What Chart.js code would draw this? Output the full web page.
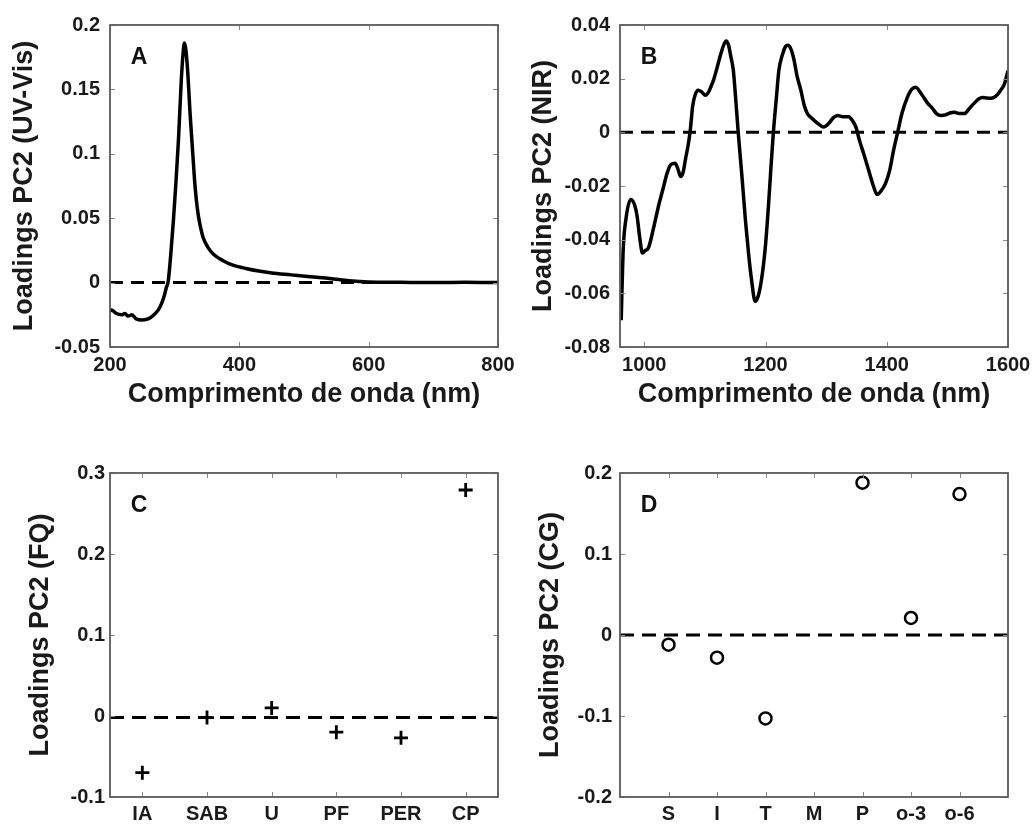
<!DOCTYPE html>
<html><head><meta charset="utf-8">
<script src="https://cdn.jsdelivr.net/npm/chart.js@4.4.1/dist/chart.umd.min.js"></script>
<style>
html,body{margin:0;padding:0;background:#fff}
body{width:1033px;height:825px;overflow:hidden;position:relative}
canvas{position:absolute;display:block}
</style></head><body>
<canvas id="cA" width="516" height="412" style="left:0;top:0"></canvas>
<canvas id="cB" width="517" height="412" style="left:516px;top:0"></canvas>
<canvas id="cC" width="516" height="413" style="left:0;top:412px"></canvas>
<canvas id="cD" width="517" height="413" style="left:516px;top:412px"></canvas>
<script>
// ---------- DATA ----------
const uvWavelength = [200,205,210,218,223,228,234,240,250,260,268,275,280,284,287,290,294,298,302,306,310,313,315,317,320,324,328,332,336,340,344,352,360,375,390,410,430,450,480,510,540,570,600,650,700,750,800];
const uvLoading = [-0.021,-0.022,-0.024,-0.025,-0.024,-0.026,-0.025,-0.028,-0.029,-0.028,-0.025,-0.021,-0.016,-0.010,-0.004,0.001,0.022,0.048,0.078,0.112,0.155,0.178,0.186,0.182,0.165,0.130,0.100,0.072,0.054,0.043,0.035,0.027,0.022,0.017,0.0135,0.011,0.009,0.0075,0.006,0.0045,0.0032,0.0015,0.0005,0.0002,0.0,0.0003,0.0];
const uvTicksX = [200,400,600,800];
const uvTicksY = [-0.05,0,0.05,0.1,0.15,0.2];

const nirWavelength = [962,965,970,978,984,988,993,997,1002,1007,1015,1023,1031,1038,1044,1051,1056,1060,1064,1068,1073,1076,1080,1084,1089,1095,1101,1106,1110,1115,1120,1126,1131,1135,1139,1143,1147,1151,1155,1161,1167,1172,1177,1183,1188,1194,1200,1205,1209,1213,1218,1222,1228,1233,1237,1242,1247,1252,1258,1264,1269,1275,1280,1288,1296,1305,1312,1319,1328,1337,1343,1349,1355,1362,1370,1378,1384,1390,1398,1405,1411,1418,1425,1434,1441,1448,1455,1461,1467,1475,1482,1489,1497,1504,1511,1520,1528,1536,1544,1552,1558,1565,1572,1580,1588,1594,1600];
const nirLoading = [-0.070,-0.045,-0.032,-0.025,-0.027,-0.031,-0.040,-0.045,-0.044,-0.043,-0.036,-0.028,-0.021,-0.015,-0.012,-0.0115,-0.014,-0.0165,-0.015,-0.010,-0.004,0.001,0.010,0.014,0.0157,0.0150,0.0138,0.0150,0.0170,0.020,0.024,0.029,0.0325,0.034,0.0325,0.028,0.023,0.012,0.0,-0.016,-0.033,-0.045,-0.055,-0.063,-0.061,-0.054,-0.042,-0.027,-0.013,0.0,0.013,0.023,0.029,0.032,0.0325,0.031,0.027,0.021,0.016,0.010,0.007,0.0055,0.0045,0.0030,0.002,0.0035,0.0055,0.0063,0.0058,0.0058,0.0045,0.002,-0.003,-0.008,-0.014,-0.020,-0.0232,-0.022,-0.019,-0.014,-0.007,0.0,0.007,0.013,0.016,0.0168,0.015,0.013,0.011,0.009,0.007,0.0063,0.0065,0.0072,0.0075,0.0070,0.0070,0.0088,0.0108,0.0125,0.0130,0.0128,0.0127,0.0135,0.0157,0.018,0.023];
const nirTicksX = [1000,1200,1400,1600];
const nirTicksY = [-0.08,-0.06,-0.04,-0.02,0,0.02,0.04];

const fqCategories = ['IA','SAB','U','PF','PER','CP'];
const fqLoading = [-0.070,-0.002,0.010,-0.020,-0.027,0.279];
const fqTicksY = [-0.1,0,0.1,0.2,0.3];
const fqZero = -0.002;

const cgCategories = ['S','I','T','M','P','o-3','o-6'];
const cgLoading = [-0.012,-0.028,-0.103,null,0.188,0.021,0.174];
const cgTicksY = [-0.2,-0.1,0,0.1,0.2];
const cgZero = 0;

// ---------- STYLE ----------
const FAM = '"Liberation Sans", Arial, Helvetica, sans-serif';
const tickFont = {family: FAM, size: 20, weight: 'bold'};
const titleFont = {family: FAM, size: 27, weight: 'bold'};
const TXT = '#1a1a1a';

const framePlugin = {
  id: 'frame',
  afterDatasetsDraw(chart, args, opts) {
    const {ctx, chartArea: a, scales: {x, y}} = chart;
    ctx.save();
    ctx.strokeStyle = '#8a8a8a'; ctx.lineWidth = 1;
    const L = 5;
    ctx.beginPath();
    x.ticks.forEach(t => {
      const p = Math.round(x.getPixelForValue(t.value)) + 0.5;
      ctx.moveTo(p, a.bottom); ctx.lineTo(p, a.bottom - L);
      ctx.moveTo(p, a.top); ctx.lineTo(p, a.top + L);
    });
    y.ticks.forEach(t => {
      const p = Math.round(y.getPixelForValue(t.value)) + 0.5;
      ctx.moveTo(a.left, p); ctx.lineTo(a.left + L, p);
      ctx.moveTo(a.right, p); ctx.lineTo(a.right - L, p);
    });
    ctx.stroke();
    ctx.strokeStyle = '#5a5a5a'; ctx.lineWidth = 1.8;
    ctx.strokeRect(a.left, a.top, a.right - a.left, a.bottom - a.top);
    ctx.fillStyle = '#111';
    ctx.font = 'bold 23px ' + FAM;
    ctx.textAlign = 'center'; ctx.textBaseline = 'middle';
    ctx.fillText(opts.letter, a.left + 29, a.top + 33);
    ctx.restore();
  }
};

function xScale(min, max, ticksArr, labelFn, title, h, pad) {
  return {
    type: 'linear', min, max,
    afterBuildTicks: s => { s.ticks = ticksArr.map(v => ({value: v})); },
    afterFit: s => { s.height = h; s.paddingLeft = 0; s.paddingRight = 0; },
    ticks: {callback: labelFn, font: tickFont, color: TXT, padding: pad, maxRotation: 0, autoSkip: false},
    grid: {display: false, drawTicks: false},
    border: {display: false},
    title: {display: !!title, text: title, font: titleFont, color: TXT, padding: {top: 0, bottom: 1}}
  };
}
function yScale(min, max, ticksArr, title, w, pad, tpad) {
  return {
    type: 'linear', min, max,
    afterBuildTicks: s => { s.ticks = ticksArr.map(v => ({value: v})); },
    afterFit: s => { s.width = w; s.paddingTop = 0; s.paddingBottom = 0; },
    ticks: {callback: v => String(v), font: tickFont, color: TXT, padding: pad},
    grid: {display: false, drawTicks: false},
    border: {display: false},
    title: {display: true, text: title, font: titleFont, color: TXT, padding: {top: tpad, bottom: 0}}
  };
}
const baseOpts = (layoutPad, letter, scales) => ({
  responsive: false, animation: false,
  layout: {padding: layoutPad},
  plugins: {legend: {display: false}, tooltip: {enabled: false}, frame: {letter}},
  scales
});

// ---------- A ----------
new Chart(document.getElementById('cA'), {
  type: 'line',
  data: {datasets: [
    {data: uvWavelength.map((w, i) => ({x: w, y: uvLoading[i]})), borderColor: '#000', borderWidth: 3.5, pointRadius: 0, cubicInterpolationMode: 'monotone', fill: false},
    {data: [{x: 200, y: 0}, {x: 800, y: 0}], borderColor: '#000', borderWidth: 3, borderDash: [13, 8], pointRadius: 0, fill: false}
  ]},
  options: baseOpts({left: 0, top: 25, right: 18, bottom: 0}, 'A', {
    x: xScale(200, 800, uvTicksX, v => String(v), 'Comprimento de onda (nm)', 65, 6),
    y: yScale(-0.05, 0.2, uvTicksY, 'Loadings PC2 (UV-Vis)', 110, 10, 8)
  }),
  plugins: [framePlugin]
});

// ---------- B ----------
new Chart(document.getElementById('cB'), {
  type: 'line',
  data: {datasets: [
    {data: nirWavelength.map((w, i) => ({x: w, y: nirLoading[i]})), borderColor: '#000', borderWidth: 3.5, pointRadius: 0, cubicInterpolationMode: 'monotone', fill: false},
    {data: [{x: 960, y: 0}, {x: 1600, y: 0}], borderColor: '#000', borderWidth: 3, borderDash: [13, 8], pointRadius: 0, fill: false}
  ]},
  options: baseOpts({left: 0, top: 25, right: 25, bottom: 0}, 'B', {
    x: xScale(960, 1600, nirTicksX, v => String(v), 'Comprimento de onda (nm)', 65, 6),
    y: yScale(-0.08, 0.04, nirTicksY, 'Loadings PC2 (NIR)', 104, 10, 11)
  }),
  plugins: [framePlugin]
});

// ---------- C ----------
new Chart(document.getElementById('cC'), {
  type: 'scatter',
  data: {datasets: [
    {type: 'scatter', data: fqCategories.map((c, i) => ({x: i + 1, y: fqLoading[i]})), pointStyle: 'cross', pointRadius: 7, borderColor: '#000', borderWidth: 2.8},
    {type: 'line', data: [{x: 0.5, y: fqZero}, {x: 6.5, y: fqZero}], borderColor: '#000', borderWidth: 3, borderDash: [14, 8], pointRadius: 0, fill: false}
  ]},
  options: baseOpts({left: 0, top: 61, right: 18, bottom: 0}, 'C', {
    x: xScale(0.5, 6.5, fqCategories.map((c, i) => i + 1), v => fqCategories[v - 1], '', 28, 5),
    y: yScale(-0.1, 0.3, fqTicksY, 'Loadings PC2 (FQ)', 110, 5, 24)
  }),
  plugins: [framePlugin]
});

// ---------- D ----------
new Chart(document.getElementById('cD'), {
  type: 'scatter',
  data: {datasets: [
    {type: 'scatter', data: cgCategories.map((c, i) => ({x: i + 1, y: cgLoading[i]})).filter(p => p.y !== null), pointStyle: 'circle', pointRadius: 6, backgroundColor: '#fff', borderColor: '#000', borderWidth: 2.5},
    {type: 'line', data: [{x: 0, y: cgZero}, {x: 8, y: cgZero}], borderColor: '#000', borderWidth: 3, borderDash: [14, 8], pointRadius: 0, fill: false}
  ]},
  options: baseOpts({left: 0, top: 61, right: 25, bottom: 0}, 'D', {
    x: xScale(0, 8, cgCategories.map((c, i) => i + 1), v => cgCategories[v - 1], '', 28, 5),
    y: yScale(-0.2, 0.2, cgTicksY, 'Loadings PC2 (CG)', 104, 8, 18)
  }),
  plugins: [framePlugin]
});
</script>
</body></html>
